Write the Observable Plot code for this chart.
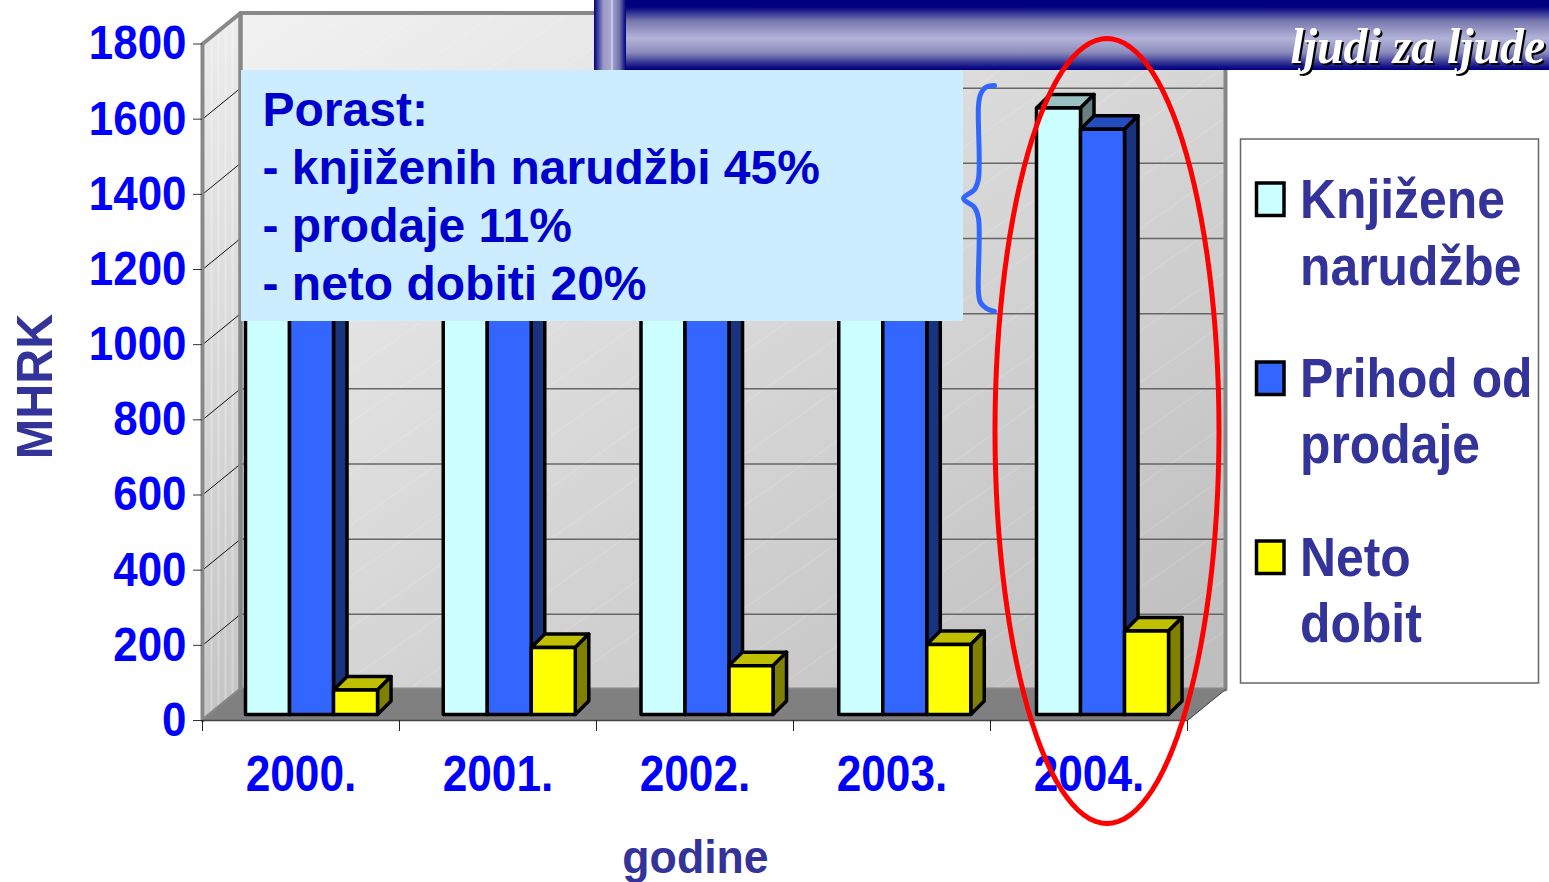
<!DOCTYPE html>
<html>
<head>
<meta charset="utf-8">
<script src="https://cdn.jsdelivr.net/npm/d3@7"></script>
<script src="https://cdn.jsdelivr.net/npm/@observablehq/plot@0.6"></script>
<style>
html,body{margin:0;padding:0;background:#fff;overflow:hidden}
svg{display:block}
</style>
</head>
<body>
<div id="chart"></div>
<script>
// ---- data (MHRK) ----
const years = ["2000.", "2001.", "2002.", "2003.", "2004."];
const knjizeneNarudzbe = [1130, 1150, 1080, 1113, 1614];
const prihodOdProdaje = [1180, 1300, 1250, 1403, 1557];
const netoDobit = [65, 178, 130, 186, 222];
const yTicks = [0, 200, 400, 600, 800, 1000, 1200, 1400, 1600, 1800];
const seriesNames = ["Knjižene narudžbe", "Prihod od prodaje", "Neto dobit"];
const seriesValues = [knjizeneNarudzbe, prihodOdProdaje, netoDobit];
const frontColors = ["#ccffff", "#3366ff", "#ffff00"];
const topColors = ["#99bfbf", "#264dbf", "#bfbf00"];
const sideColors = ["#668080", "#1a337f", "#808000"];
const legendLines = [["Knjižene", "narudžbe"], ["Prihod od", "prodaje"], ["Neto", "dobit"]];
const calloutLines = ["Porast:", "- knjiženih narudžbi 45%", "- prodaje 11%", "- neto dobiti 20%"];

// ---- layout helpers: annotations placed in the scale's own units ----
const uX = px => (px - 202) / 197;
const uY = py => (720 - py) * 1800 / 676.5;
const wallDx = 38 / 197, wallDy = 31 * 1800 / 676.5;
const barDx = 13.5 / 197, barDy = 13.5 * 1800 / 676.5;
const barBase = 16, barW = 0.2234;
const cats = years.map((_, i) => i);

// ---- 3D bar faces, built from the data ----
const faces = [];
cats.forEach(i => {
  seriesValues.forEach((vals, s) => {
    const x0 = i * 1.0038 + 0.2183 + s * barW, x1 = x0 + barW;
    const b = barBase, t = vals[i] + barBase;
    const add = (name, fill, pts) => pts.forEach(([x, y]) => faces.push({id: `${i}-${s}-${name}`, x, y, fill}));
    add("top", topColors[s], [[x0, t], [x1, t], [x1 + barDx, t + barDy], [x0 + barDx, t + barDy]]);
    add("side", sideColors[s], [[x1, b], [x1, t], [x1 + barDx, t + barDy], [x1 + barDx, b + barDy]]);
    add("front", frontColors[s], [[x0, b], [x1, b], [x1, t], [x0, t]]);
  });
});

// ---- chart frame geometry ----
const backWall = [[wallDx, wallDy], [5 + wallDx, wallDy], [5 + wallDx, 1800 + wallDy], [wallDx, 1800 + wallDy]];
const sideWall = [[0, 0], [wallDx, wallDy], [wallDx, 1800 + wallDy], [0, 1800]];
const floor = [[0, 0], [5, 0], [5 + wallDx, wallDy], [wallDx, wallDy]];
const gridSide = yTicks.flatMap(v => [{v, x: 0, y: v}, {v, x: wallDx, y: v + wallDy}]);
const xTickPos = [0, 1, 2, 3, 4, 5];
const xLabelPos = cats.map(i => i + 0.5);

const poly = (pts, opts) => Plot.line(pts, {x: d => d[0], y: d => d[1], curve: "linear-closed", ...opts});

// ---- annotations ----
const bracePts = [[994,85],[985,87],[980,94],[978,105],[978,178],[974,189],[963,198],[974,207],[978,218],[978,292],[980,302],[986,308],[994,311]];
const ellipseAngles = d3.range(0, 361, 3);
const ellX = a => uX(1106.5 + 112 * Math.cos(a * Math.PI / 180));
const ellY = a => uY(430.5 + 392.5 * Math.sin(a * Math.PI / 180));
const legendRows = [[218, 285, 183], [397, 463, 362], [576, 642, 541]];

const defs = () => d3.create("svg:defs").html(`
  <linearGradient id="wallGrad" x1="0" y1="0" x2="1" y2="1">
    <stop offset="0" stop-color="#f2f2f2"/><stop offset="1" stop-color="#bdbdbd"/>
  </linearGradient>
  <linearGradient id="sideGrad" x1="0" y1="0" x2="0" y2="1">
    <stop offset="0" stop-color="#ececec"/><stop offset="1" stop-color="#c4c4c4"/>
  </linearGradient>
  <linearGradient id="bannerGrad" x1="0" y1="0" x2="0" y2="1">
    <stop offset="0" stop-color="#000080"/><stop offset="0.1" stop-color="#000080"/>
    <stop offset="0.3" stop-color="#7878ae"/><stop offset="0.55" stop-color="#b3b3d9"/>
    <stop offset="0.75" stop-color="#8c8cbc"/><stop offset="0.96" stop-color="#0d0d84"/>
    <stop offset="1" stop-color="#000080"/>
  </linearGradient>
  <linearGradient id="stripGrad" x1="0" y1="0" x2="1" y2="0">
    <stop offset="0" stop-color="#000080"/><stop offset="0.3" stop-color="#9c9cc8"/>
    <stop offset="0.55" stop-color="#a8a8d0"/><stop offset="0.8" stop-color="#6f6fa8"/>
    <stop offset="1" stop-color="#000080"/>
  </linearGradient>
  <pattern id="hatch" width="42" height="42" patternUnits="userSpaceOnUse" patternTransform="rotate(-35)">
    <line x1="0" y1="0" x2="42" y2="0" stroke="#fff" stroke-opacity="0.3" stroke-width="1.2"/>
  </pattern>
  <pattern id="stripes" width="7" height="7" patternUnits="userSpaceOnUse">
    <line x1="1" y1="0" x2="1" y2="7" stroke="#fff" stroke-opacity="0.35" stroke-width="1.5"/>
  </pattern>`).node();

const chart = Plot.plot({
  width: 1549, height: 882,
  marginLeft: 202, marginRight: 362, marginTop: 43.5, marginBottom: 162,
  x: {domain: [0, 5]},
  y: {domain: [0, 1800]},
  color: {type: "identity"},
  style: {fontFamily: "'Liberation Sans', Arial, sans-serif", fontWeight: "bold", background: "#fff"},
  marks: [
    defs,
    // walls and floor
    poly(backWall, {fill: "url(#wallGrad)"}),
    poly(backWall, {fill: "url(#hatch)"}),
    poly(sideWall, {fill: "url(#sideGrad)"}),
    poly(sideWall, {fill: "url(#stripes)"}),
    poly(floor, {fill: "#808080"}),
    // gridlines
    Plot.ruleY(yTicks.slice(1, -1), {x1: wallDx, x2: 5 + wallDx, y: d => d + wallDy, stroke: "#666", strokeWidth: 1.5}),
    Plot.line(gridSide.filter(d => d.v > 0 && d.v < 1800), {x: "x", y: "y", z: "v", stroke: "#111", strokeWidth: 1}),
    // wall frame
    poly(backWall, {stroke: "#888", strokeWidth: 4, fill: "none"}),
    poly(sideWall, {stroke: "#888", strokeWidth: 4, fill: "none"}),
    poly(floor, {fill: "#808080"}),
    Plot.ruleY([0], {x1: 0, x2: 5, stroke: "#444", strokeWidth: 1.5}),
    Plot.line([[5, 0], [5 + wallDx, wallDy]], {x: d => d[0], y: d => d[1], stroke: "#444", strokeWidth: 1}),
    // axes
    Plot.ruleX(xTickPos, {y1: 0, y2: uY(731), stroke: "#222", strokeWidth: 1}),
    Plot.axisY({ticks: yTicks, tickFormat: d => `${d}`, anchor: "left", tickSize: 9, tickPadding: 7, fontSize: 48, fill: "#0000ff", stroke: "#333", label: null}),
    Plot.axisX(xLabelPos, {tickFormat: (d, i) => years[i], anchor: "bottom", tickSize: 0, tickPadding: 35, fontSize: 50, fill: "#0000ff", label: null, className: "years"}),
    // bars
    Plot.line(faces, {x: "x", y: "y", z: "id", fill: "fill", stroke: "#000", strokeWidth: 3.5, curve: "linear-closed", strokeLinejoin: "round"}),
    // axis titles
    Plot.text(["MHRK"], {x: uX(35), y: uY(386), text: d => d, rotate: -90, fontSize: 50, fill: "#333399", className: "wide"}),
    Plot.text(["godine"], {x: uX(695), y: uY(857), text: d => d, fontSize: 47, fill: "#333399", className: "wide2"}),
    // banner
    Plot.rect([0], {x1: uX(594), x2: uX(1549), y1: uY(70), y2: uY(0), fill: "url(#bannerGrad)"}),
    Plot.rect([0], {x1: uX(594), x2: uX(626), y1: uY(70), y2: uY(0), fill: "url(#stripGrad)"}),
    Plot.ruleX([uX(611.5)], {y1: uY(70), y2: uY(0), stroke: "#e8e8f8", strokeWidth: 1}),
    Plot.text(["ljudi za ljude"], {x: uX(1290), y: uY(46), text: d => d, textAnchor: "start", fontSize: 50, fontStyle: "italic", fontFamily: "'Liberation Serif', serif", fill: "#000", dx: 2, dy: 2, className: "banner"}),
    Plot.text(["ljudi za ljude"], {x: uX(1290), y: uY(46), text: d => d, textAnchor: "start", fontSize: 50, fontStyle: "italic", fontFamily: "'Liberation Serif', serif", fill: "#fff", className: "banner"}),
    // callout
    Plot.rect([0], {x1: uX(241), x2: uX(963), y1: uY(321), y2: uY(70), fill: "#ccecff"}),
    Plot.text(calloutLines, {x: uX(262), y: (d, i) => uY(110 + i * 58), text: d => d, textAnchor: "start", fontSize: 48, fill: "#0000cc"}),
    // brace and ellipse
    Plot.line(bracePts, {x: d => uX(d[0]), y: d => uY(d[1]), curve: "catmull-rom", stroke: "#3366ff", strokeWidth: 5}),
    Plot.line(ellipseAngles, {x: ellX, y: ellY, stroke: "#ff0000", strokeWidth: 5}),
    // legend
    Plot.rect([0], {x1: uX(1240.5), x2: uX(1538.5), y1: uY(683), y2: uY(139), fill: "#fff", stroke: "#666", strokeWidth: 1.5}),
    Plot.rect(legendRows, {x1: uX(1256.5), x2: uX(1284), y1: d => uY(d[2] + 32.5), y2: d => uY(d[2]), fill: (d, i) => frontColors[i], stroke: "#000", strokeWidth: 3.5}),
    Plot.text(legendLines.map(d => d[0]), {x: uX(1299.5), y: (d, i) => uY(legendRows[i][0] - 18), text: d => d, textAnchor: "start", fontSize: 56, fill: "#333399", className: "squeeze"}),
    Plot.text(legendLines.map(d => d[1]), {x: uX(1299.5), y: (d, i) => uY(legendRows[i][1] - 18), text: d => d, textAnchor: "start", fontSize: 56, fill: "#333399", className: "squeeze"})
  ]
});

// tall, narrow lettering of the original
const squeeze = (sel, k) => d3.select(chart).selectAll(sel).attr("transform", function () {
  return (this.getAttribute("transform") || "") + ` scale(${k},1)`;
});
squeeze('g[aria-label="y-axis tick label"] text', 0.915);
squeeze('g[aria-label="x-axis tick label"] text', 0.885);
squeeze('.squeeze text, text.squeeze', 0.89);
squeeze('.wide text, text.wide', 0.97);
squeeze('.wide2 text, text.wide2', 0.95);
squeeze('.banner text, text.banner', 0.955);

document.getElementById("chart").appendChild(chart);
</script>
</body>
</html>
